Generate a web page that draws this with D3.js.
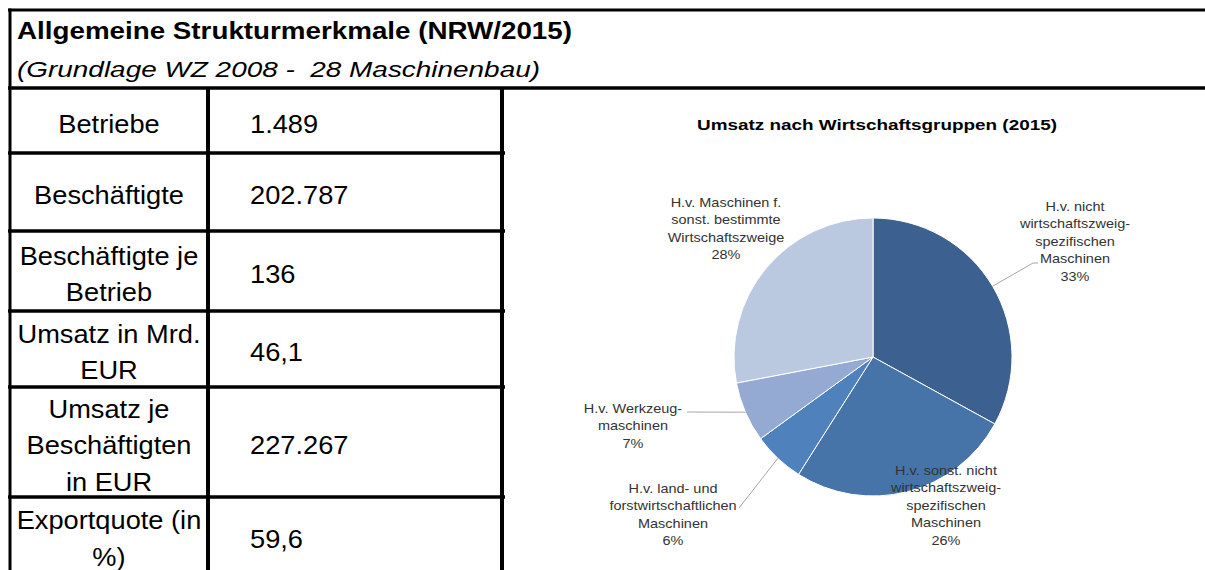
<!DOCTYPE html>
<html lang="de">
<head>
<meta charset="utf-8">
<title>Allgemeine Strukturmerkmale (NRW/2015)</title>
<script src="https://cdn.jsdelivr.net/npm/d3@7"></script>
<style>
  body { margin: 0; background: #fff; }
  svg { display: block; font-family: "Liberation Sans", Arial, sans-serif; }
  .grid { stroke: #000; }
  .cell { font-size: 25px; fill: #000; }
  .plabel { font-size: 12.7px; fill: #333; }
  .pre { white-space: pre; }
</style>
</head>
<body>
<script>
// ---- data ----
var titleText = "Allgemeine Strukturmerkmale (NRW/2015)";
var subtitleText = "(Grundlage WZ 2008 -  28 Maschinenbau)";

var rowLabels = [
  ["Betriebe"],
  ["Beschäftigte"],
  ["Beschäftigte je", "Betrieb"],
  ["Umsatz in Mrd.", "EUR"],
  ["Umsatz je", "Beschäftigten", "in EUR"],
  ["Exportquote (in", "%)"]
];
var rowValues = ["1.489", "202.787", "136", "46,1", "227.267", "59,6"];

var pieTitle = "Umsatz nach Wirtschaftsgruppen (2015)";
var categories = [
  ["H.v. nicht", "wirtschaftszweig-", "spezifischen", "Maschinen"],
  ["H.v. sonst. nicht", "wirtschaftszweig-", "spezifischen", "Maschinen"],
  ["H.v. land- und", "forstwirtschaftlichen", "Maschinen"],
  ["H.v. Werkzeug-", "maschinen"],
  ["H.v. Maschinen f.", "sonst. bestimmte", "Wirtschaftszweige"]
];
var shares = [33, 26, 6, 7, 28];
var sliceColors = ["#3c6190", "#4673a8", "#4f81bd", "#95aad2", "#bac8e0"];

// ---- layout ----
var width = 1205, height = 570;
var rowEdges = [88, 153, 231, 311, 387, 497, 574];
var col1 = 208, col2 = 502, left = 10;
var lineH = 36.5, sx = 1.09;

var svg = d3.select("body").append("svg")
  .attr("width", width)
  .attr("height", height);

svg.append("rect").attr("width", width).attr("height", height).attr("fill", "#fff");

// heading
svg.append("text")
  .attr("x", 17).attr("y", 39)
  .attr("font-size", 23).attr("font-weight", "bold")
  .attr("textLength", 555).attr("lengthAdjust", "spacingAndGlyphs")
  .text(titleText);
svg.append("text")
  .attr("class", "pre")
  .attr("x", 17).attr("y", 77)
  .attr("font-size", 22).attr("font-style", "italic")
  .attr("textLength", 523).attr("lengthAdjust", "spacingAndGlyphs")
  .text(subtitleText);

// table rows
var rows = svg.append("g").selectAll("g.row")
  .data(rowLabels)
  .enter().append("g")
  .attr("class", "row");

rows.each(function(lines, i) {
  var g = d3.select(this);
  var mid = (rowEdges[i] + rowEdges[i + 1]) / 2;
  lines.forEach(function(t, j) {
    var y = mid + (j - (lines.length - 1) / 2) * lineH + 12;
    g.append("text")
      .attr("class", "cell")
      .attr("text-anchor", "middle")
      .attr("transform", "translate(" + ((left + col1) / 2) + "," + y + ") scale(" + sx + ",1)")
      .text(t);
  });
  g.append("text")
    .attr("class", "cell")
    .attr("transform", "translate(250," + (mid + 12) + ") scale(" + sx + ",1)")
    .text(rowValues[i]);
});

// grid lines
var grid = svg.append("g").attr("class", "grid");
grid.append("line").attr("x1", 8).attr("x2", width).attr("y1", 10).attr("y2", 10).attr("stroke-width", 3);
grid.append("line").attr("x1", left).attr("x2", left).attr("y1", 8.5).attr("y2", height).attr("stroke-width", 3);
grid.append("line").attr("x1", 8).attr("x2", width).attr("y1", 88).attr("y2", 88).attr("stroke-width", 3.5);
grid.append("line").attr("x1", col1).attr("x2", col1).attr("y1", 88).attr("y2", height).attr("stroke-width", 4);
grid.append("line").attr("x1", col2).attr("x2", col2).attr("y1", 88).attr("y2", height).attr("stroke-width", 4);
grid.selectAll("line.rowline")
  .data(rowEdges.slice(1, -1))
  .enter().append("line")
  .attr("class", "rowline")
  .attr("x1", 8).attr("x2", col2 + 3)
  .attr("y1", function(d) { return d; })
  .attr("y2", function(d) { return d; })
  .attr("stroke-width", 3.5);

// pie chart
var cx = 873, cy = 357, r = 139;

svg.append("text")
  .attr("x", 877).attr("y", 130)
  .attr("text-anchor", "middle")
  .attr("font-size", 15).attr("font-weight", "bold")
  .attr("textLength", 360).attr("lengthAdjust", "spacingAndGlyphs")
  .text(pieTitle);

var pie = d3.pie().sort(null).value(function(d) { return d; });
var arcs = pie(shares);
var arc = d3.arc().innerRadius(0).outerRadius(r);
var edge = d3.arc().innerRadius(r).outerRadius(r);

var pg = svg.append("g").attr("transform", "translate(" + cx + "," + cy + ")");
pg.selectAll("path")
  .data(arcs)
  .enter().append("path")
  .attr("d", arc)
  .attr("fill", function(d, i) { return sliceColors[i]; })
  .attr("stroke", "#fff")
  .attr("stroke-width", 1);

// label blocks: centre x, first baseline, optional leader end points
var labelPos = [
  { x: 1075, y: 211, lead: [[1033, 263], [1038, 263]] },
  { x: 946, y: 475 },
  { x: 673, y: 493, lead: [[739, 508]] },
  { x: 633, y: 413, lead: [[687, 412]] },
  { x: 726, y: 207 }
];
var pLine = 17.4, psx = 1.14;

arcs.forEach(function(d, i) {
  var p = labelPos[i];
  if (p.lead) {
    var c = edge.centroid(d);
    var pts = [[cx + c[0], cy + c[1]]].concat(p.lead);
    svg.append("path")
      .attr("d", d3.line()(pts))
      .attr("fill", "none")
      .attr("stroke", "#a6a6a6")
      .attr("stroke-width", 1);
  }
  var lines = categories[i].concat([shares[i] + "%"]);
  lines.forEach(function(t, j) {
    svg.append("text")
      .attr("class", "plabel")
      .attr("text-anchor", "middle")
      .attr("transform", "translate(" + p.x + "," + (p.y + j * pLine) + ") scale(" + psx + ",1)")
      .text(t);
  });
});
</script>
</body>
</html>
